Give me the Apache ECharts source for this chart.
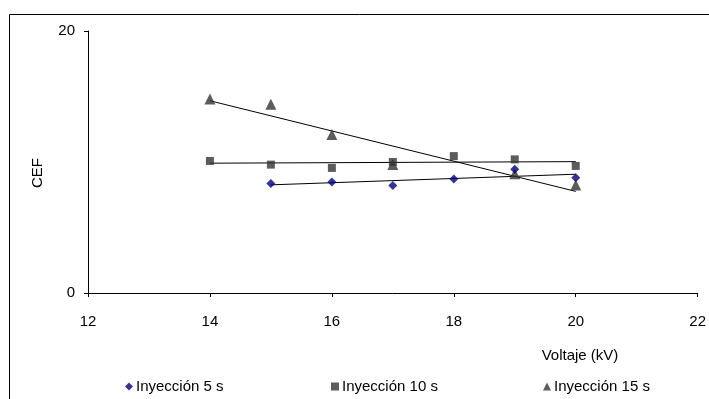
<!DOCTYPE html>
<html><head><meta charset="utf-8">
<script src="https://cdn.jsdelivr.net/npm/echarts@6/dist/echarts.min.js"></script>
<style>html,body{margin:0;padding:0;background:#fff}#c{width:709px;height:399px}</style>
</head><body><div id="c"></div>
<script>
const xTicks = [12, 14, 16, 18, 20, 22];
const yTicks = [0, 20];
const x5 = [15, 16, 17, 18, 19, 20];
const y5 = [8.35, 8.47, 8.2, 8.7, 9.45, 8.8];
const x10 = [14, 15, 16, 17, 18, 19, 20];
const y10 = [10.08, 9.8, 9.55, 10.0, 10.45, 10.2, 9.7];
const x15 = [14, 15, 16, 17, 19, 20];
const y15 = [14.8, 14.4, 12.1, 9.8, 9.1, 8.25];
const names = ['Inyección 5 s', 'Inyección 10 s', 'Inyección 15 s'];

function pts(xs, ys) { return xs.map((x, i) => [x, ys[i]]); }
function fit(xs, ys) {
  const n = xs.length;
  const mx = xs.reduce((a, b) => a + b, 0) / n, my = ys.reduce((a, b) => a + b, 0) / n;
  let sxy = 0, sxx = 0;
  xs.forEach((x, i) => { sxy += (x - mx) * (ys[i] - my); sxx += (x - mx) * (x - mx); });
  const b = sxy / sxx, a = my - b * mx;
  const x0 = Math.min(...xs), x1 = Math.max(...xs);
  return [[x0, a + b * x0], [x1, a + b * x1]];
}
const font = 'Liberation Sans, Arial, sans-serif';
const chart = echarts.init(document.getElementById('c'));
function trend(xs, ys) {
  return { type: 'line', data: fit(xs, ys), symbol: 'none', silent: true,
    lineStyle: { color: '#000', width: 1 }, z: 1 };
}
function legend(name, left) {
  return { data: [name], left: left, top: 374, itemWidth: 8, itemHeight: 8, itemGap: 4,
    textStyle: { fontFamily: font, fontSize: 15, color: '#000', padding: [0, 0, 0, -2] } };
}
chart.setOption({
  animation: false,
  grid: { left: 88, right: 6, top: 31, bottom: 106 },
  xAxis: { type: 'value', min: 12, max: 22, interval: 2,
    axisLine: { lineStyle: { color: '#000', width: 1 } },
    axisTick: { show: true, length: 4, lineStyle: { color: '#000' } },
    axisLabel: { fontFamily: font, fontSize: 15, color: '#000', margin: 21, showMaxLabel: true },
    splitLine: { show: false } },
  yAxis: { type: 'value', min: 0, max: 20, interval: 20,
    axisLine: { show: true, lineStyle: { color: '#000', width: 1 } },
    axisTick: { show: true, length: 4, lineStyle: { color: '#000' } },
    axisLabel: { fontFamily: font, fontSize: 15, color: '#000', margin: 13 },
    splitLine: { show: false } },
  legend: [legend(names[0], 120), legend(names[1], 326), legend(names[2], 538)],
  series: [
    { name: names[0], type: 'scatter', data: pts(x5, y5), symbol: 'diamond', symbolSize: 9,
      itemStyle: { color: '#000080' }, z: 3 },
    { name: names[1], type: 'scatter', data: pts(x10, y10), symbol: 'rect', symbolSize: 8,
      itemStyle: { color: '#333333' }, z: 3 },
    { name: names[2], type: 'scatter', data: pts(x15, y15), symbol: 'triangle', symbolSize: 11,
      itemStyle: { color: '#333333' }, z: 2 },
    trend(x5, y5), trend(x10, y10), trend(x15, y15)
  ],
  graphic: [
    { type: 'rect', left: 7, top: 12, shape: { width: 800, height: 500 },
      style: { fill: 'none', stroke: '#000', lineWidth: 1 }, silent: true },
    { type: 'text', x: 38, y: 173, rotation: Math.PI / 2, style: { text: 'CEF', font: '15px ' + font,
      fill: '#000', textAlign: 'center', textVerticalAlign: 'middle' } },
    { type: 'text', x: 580, y: 356, style: { text: 'Voltaje (kV)', font: '15px ' + font,
      fill: '#000', textAlign: 'center', textVerticalAlign: 'middle' } }
  ]
});
</script></body></html>
